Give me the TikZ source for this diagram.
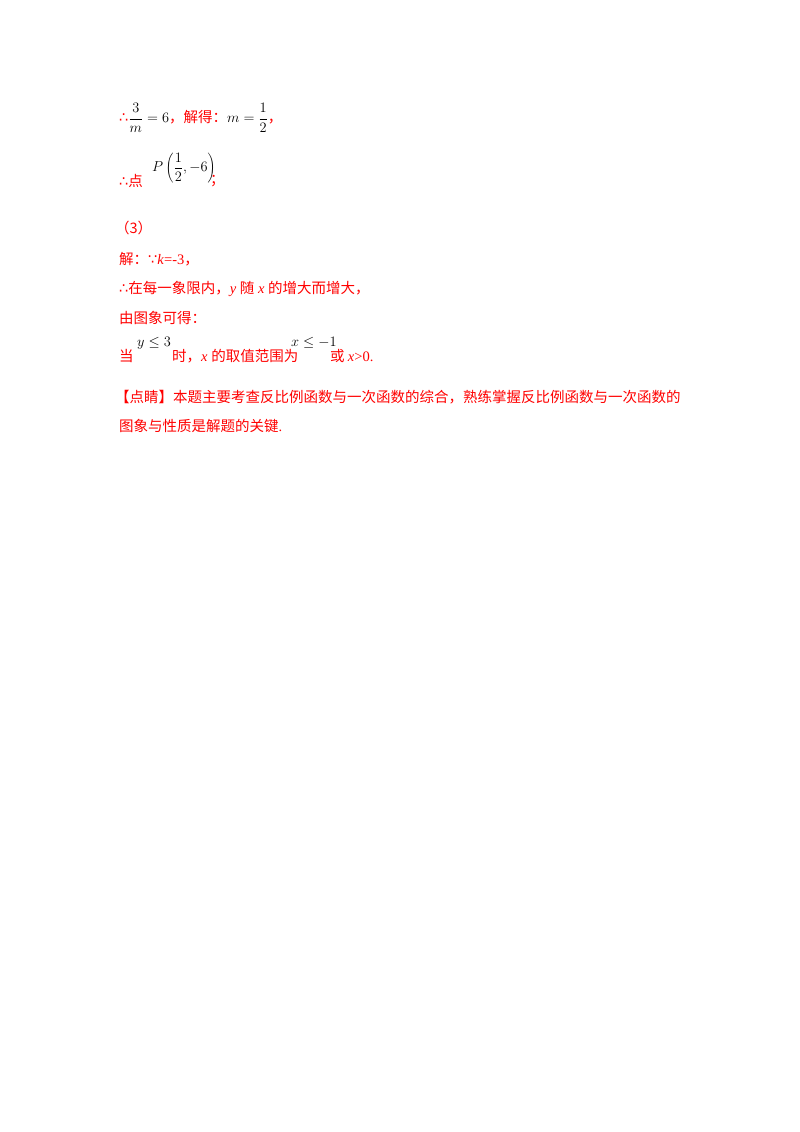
\documentclass[tikz,border=0pt]{standalone}
\usepackage{fontspec}
\setmainfont{Liberation Serif}
\newfontfamily\cjk{Noto Sans CJK SC}
\newfontfamily\sym{DejaVu Sans}
\definecolor{rd}{RGB}{255,0,0}
\begin{document}
\begin{tikzpicture}[x=1pt,y=-1pt]
\tikzset{ln/.style={anchor=west,inner sep=0pt,text=rd,font=\fontsize{14.5}{16}\selectfont},
 mth/.style={anchor=west,inner sep=0pt,text=black,font=\fontsize{15}{16}\selectfont}}
\fill[white] (0,0) rectangle (800,1132);
\node[ln] (l1) at (119,118) {{\sym ∴}\textcolor{black}{$\displaystyle\frac{3}{m}=6$}{\cjk ，解得：}\textcolor{black}{$\displaystyle m=\frac{1}{2}$}{\cjk ，}};
\node[ln] (l2) at (119,181) {{\sym ∴}{\cjk 点}};
\node[mth] (p) at (152,168) {$\displaystyle P\left(\frac{1}{2},-6\right)$};
\node[ln] (l2b) at (210,181) {\cjk ；};
\node[ln] (l3) at (115,228) {\cjk （3）};
\node[ln] (l4) at (119,259) {{\cjk 解：}{\sym ∵}\textit{k}=-3{\cjk ，}};
\node[ln] (l5) at (119,289) {{\sym ∴}{\cjk 在每一象限内，}\textit{y} {\cjk 随} \textit{x} {\cjk 的增大而增大，}};
\node[ln] (l6) at (119,318) {\cjk 由图象可得：};
\node[ln] (l7) at (119,356) {\cjk 当};
\node[mth] (m1) at (137,343) {$y\le 3$};
\node[ln] (l7b) at (172,356) {{\cjk 时，}\textit{x} {\cjk 的取值范围为}};
\node[mth] (m2) at (291,343) {$x\le -1$};
\node[ln] (l7c) at (330,356) {{\cjk 或 }\textit{x}>0.};
\node[ln] (l8) at (115,397) {{\cjk 【点睛】本题主要考查反比例函数与一次函数的综合，熟练掌握反比例函数与一次函数的}};
\node[ln] (l9) at (119,426) {{\cjk 图象与性质是解题的关键}.};
\end{tikzpicture}
\end{document}
